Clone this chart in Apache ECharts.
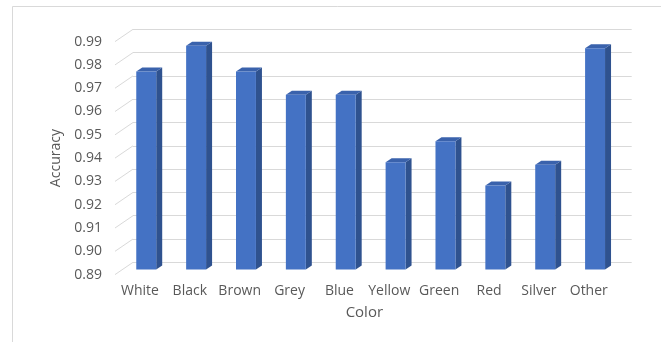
<!DOCTYPE html>
<html><head><meta charset="utf-8">
<script src="https://cdn.jsdelivr.net/npm/echarts@6/dist/echarts.min.js"></script>
<style>html,body{margin:0;padding:0;background:#fff}#c{width:661px;height:342px}</style>
</head><body><div id="c"></div>
<script>
var categories = ['White','Black','Brown','Grey','Blue','Yellow','Green','Red','Silver','Other'];
var accuracy = [0.975, 0.986, 0.975, 0.965, 0.965, 0.936, 0.945, 0.926, 0.935, 0.985];
var yTicks = [0.89, 0.90, 0.91, 0.92, 0.93, 0.94, 0.95, 0.96, 0.97, 0.98, 0.99];
var yMin = 0.89, yMax = 0.99, yStep = 0.01;

var FONT = 'Open Sans';
var chart = echarts.init(document.getElementById('c'), null, {renderer:'canvas'});

function barItem(params, api){
  var i = api.value(0), v = api.value(1);
  var top = api.coord([i, v]);
  var base = api.coord([i, yMin]);
  var band = api.size([1,0])[0];
  var w = band*0.40;
  var dx = -11.7, dy = 7.2;       // front plane offset from back wall
  var sx = 6, sy = -4;            // bar depth projection
  var fl = top[0] + dx - w/2, fr = fl + w;
  var ft = top[1] + dy, fb = base[1] + dy;
  return {type:'group', children:[
    {type:'polygon', shape:{points:[[fr,ft],[fr+sx,ft+sy],[fr+sx,fb+sy],[fr,fb]]}, style:{fill:'#2F528F'}},
    {type:'polygon', shape:{points:[[fl,ft],[fr,ft],[fr+sx,ft+sy],[fl+sx,ft+sy]]}, style:{fill:'#3A62AC'}},
    {type:'rect', shape:{x:fl,y:ft,width:w,height:fb-ft}, style:{fill:'#4472C4'}}
  ]};
}
function diagItem(params, api){
  var y = api.coord([0, api.value(1)])[1];
  var x0 = params.coordSys.x;
  return {type:'line', shape:{x1:x0, y1:y, x2:x0-18, y2:y+12.3}, style:{stroke:'#d9d9d9', lineWidth:1}};
}

chart.setOption({
  animation:false,
  backgroundColor:'#fff',
  graphic:[{type:'rect', shape:{x:12.5,y:6.5,width:700,height:400}, style:{fill:'none',stroke:'#d9d9d9',lineWidth:1}, silent:true, z:-10}],
  grid:[
    {left:133, top:29.3, width:498.7, height:233},
    {left:115, top:41.6, width:498.7, height:233}
  ],
  xAxis:[
    {type:'category', gridIndex:0, data:categories, axisLine:{show:false}, axisTick:{show:false}, axisLabel:{show:false}},
    {type:'category', gridIndex:1, data:categories, axisLine:{show:false}, axisTick:{show:false},
     axisLabel:{margin:9, fontSize:14, color:'#595959', fontFamily:FONT, interval:0},
     name:'Color', nameLocation:'middle', nameGap:31, nameTextStyle:{fontSize:15, color:'#595959', fontFamily:FONT}}
  ],
  yAxis:[
    {type:'value', gridIndex:0, min:yMin, max:yMax, interval:yStep, axisLine:{show:false}, axisTick:{show:false}, axisLabel:{show:false},
     splitLine:{lineStyle:{color:'#d9d9d9', width:1}}},
    {type:'value', gridIndex:1, min:yMin, max:yMax, interval:yStep, axisLine:{show:false}, axisTick:{show:false}, splitLine:{show:false},
     axisLabel:{margin:13, fontSize:14, color:'#595959', fontFamily:FONT, formatter:function(v){return v.toFixed(2);}},
     name:'Accuracy', nameLocation:'middle', nameGap:51, nameTextStyle:{fontSize:14, color:'#595959', fontFamily:FONT}}
  ],
  series:[
    {type:'custom', xAxisIndex:0, yAxisIndex:0, clip:false, renderItem:diagItem,
     data:yTicks.map(function(t){return [0,t];}), silent:true, z:1},
    {type:'custom', xAxisIndex:0, yAxisIndex:0, clip:false, renderItem:barItem,
     data:accuracy.map(function(v,i){return [i,v];}), z:5}
  ]
});
</script></body></html>
